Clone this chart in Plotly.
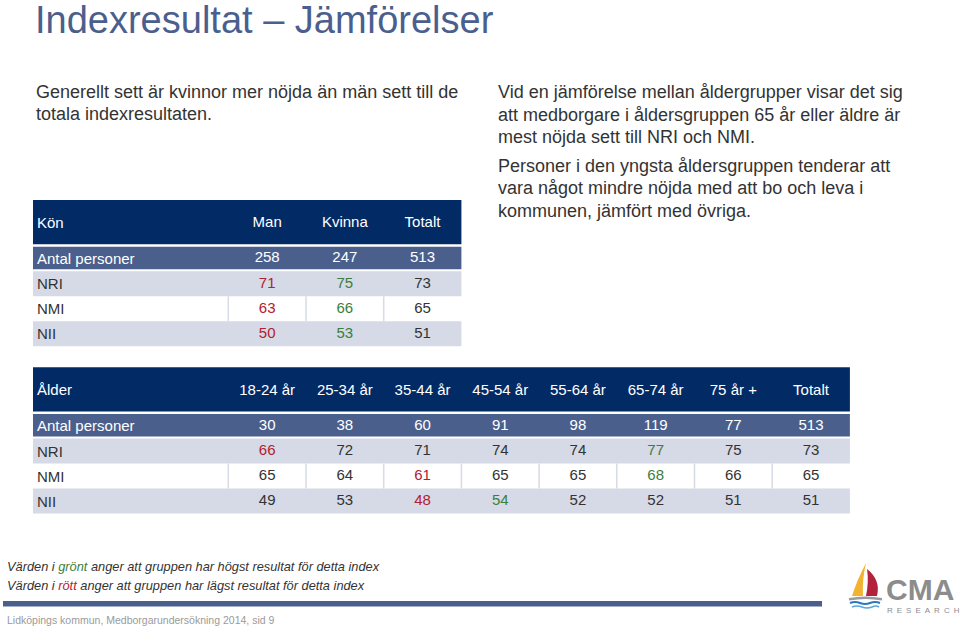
import plotly.graph_objects as go

# ---------------- data ----------------
title_text = "Indexresultat – Jämförelser"
left_lines = ["Generellt sett är kvinnor mer nöjda än män sett till de",
              "totala indexresultaten."]
right_par1 = ["Vid en jämförelse mellan åldergrupper visar det sig",
              "att medborgare i åldersgruppen 65 år eller äldre är",
              "mest nöjda sett till NRI och NMI."]
right_par2 = ["Personer i den yngsta åldersgruppen tenderar att",
              "vara något mindre nöjda med att bo och leva i",
              "kommunen, jämfört med övriga."]

row_labels = ["Antal personer", "NRI", "NMI", "NII"]

kon_label = "Kön"
kon_cols = ["Man", "Kvinna", "Totalt"]
kon_antal = [258, 247, 513]
kon_nri = [71, 75, 73]
kon_nmi = [63, 66, 65]
kon_nii = [50, 53, 51]

alder_label = "Ålder"
alder_cols = ["18-24 år", "25-34 år", "35-44 år", "45-54 år", "55-64 år",
              "65-74 år", "75 år +", "Totalt"]
alder_antal = [30, 38, 60, 91, 98, 119, 77, 513]
alder_nri = [66, 72, 71, 74, 74, 77, 75, 73]
alder_nmi = [65, 64, 61, 65, 65, 68, 66, 65]
alder_nii = [49, 53, 48, 54, 52, 52, 51, 51]

source_text = "Lidköpings kommun, Medborgarundersökning 2014, sid 9"

# ---------------- style ----------------
FONT = "Liberation Sans, Arial, Helvetica, sans-serif"
TITLE_C = "#4b5f8e"
NAVY = "#022b66"
MID = "#4b5f8d"
LIGHT = "#d5dae6"
SEP = "#d6dbe6"
TXT = "#333333"
RED = "#b3202f"
GREEN = "#3d7d3d"
W, H = 960, 627

fig = go.Figure()
shapes = []
anns = []


def rect(x0, y0, x1, y1, color):
    return dict(type="rect", xref="x", yref="y", x0=x0, y0=y0, x1=x1, y1=y1,
                fillcolor=color, line=dict(width=0), layer="below")


def left_text(x, y, text, size, color, **kw):
    anns.append(dict(x=x, y=y, xref="x", yref="y", text=text, showarrow=False,
                     xanchor="left", yanchor="middle", align="left",
                     font=dict(family=FONT, size=size, color=color), **kw))


def value_colors(vals):
    body = vals[:-1]
    lo, hi = min(body), max(body)
    cols = []
    for i, v in enumerate(vals):
        if i == len(vals) - 1:
            cols.append(TXT)
        elif v == lo:
            cols.append(RED)
        elif v == hi:
            cols.append(GREEN)
        else:
            cols.append(TXT)
    return cols


def add_table(label, cols, antal, rows, top):
    n = len(cols)
    left, lab_w, col_w = 33, 195.3, 77.7
    right = left + lab_w + n * col_w
    hdr_h, g1, ant_h, g2, row_h = 44.3, 2.5, 22.5, 2.0, 25.0
    xs = [left + lab_w + (i + 0.5) * col_w for i in range(n)]

    # header
    y0, y1 = top, top + hdr_h
    shapes.append(rect(left, y0, right, y1, NAVY))
    yc = (y0 + y1) / 2 + 0.5
    left_text(left + 2, yc, label, 15, "white")
    fig.add_trace(go.Scatter(x=xs, y=[yc + 1] * n, mode="text", text=cols,
                             textposition="middle center",
                             textfont=dict(family=FONT, size=15, color="white"),
                             hoverinfo="skip", showlegend=False))
    # antal
    y0 = y1 + g1
    y1 = y0 + ant_h
    shapes.append(rect(left, y0, right, y1, MID))
    yc = (y0 + y1) / 2
    left_text(left + 2, yc, row_labels[0], 15, "white")
    fig.add_trace(go.Scatter(x=xs, y=[yc + 0.5] * n, mode="text",
                             text=[str(v) for v in antal],
                             textposition="middle center",
                             textfont=dict(family=FONT, size=15, color="white"),
                             hoverinfo="skip", showlegend=False))
    # index rows
    y0 = y1 + g2
    for r, vals in enumerate(rows):
        y1 = y0 + row_h
        if r % 2 == 0:
            shapes.append(rect(left, y0, right, y1, LIGHT))
        else:
            for i in range(n):
                xb = left + lab_w + i * col_w
                shapes.append(dict(type="line", xref="x", yref="y", x0=xb, x1=xb,
                                   y0=y0, y1=y1, line=dict(color=SEP, width=1.5),
                                   layer="below"))
        yc = (y0 + y1) / 2
        left_text(left + 2, yc, row_labels[r + 1], 15, TXT)
        fig.add_trace(go.Scatter(x=xs, y=[yc + 0.5] * n, mode="text",
                                 text=[str(v) for v in vals],
                                 textposition="middle center",
                                 textfont=dict(family=FONT, size=15,
                                               color=value_colors(vals)),
                                 hoverinfo="skip", showlegend=False))
        y0 = y1


add_table(kon_label, kon_cols, kon_antal, [kon_nri, kon_nmi, kon_nii], 200)
add_table(alder_label, alder_cols, alder_antal,
          [alder_nri, alder_nmi, alder_nii], 367.3)

# title & paragraphs
left_text(33, 19.5, title_text, 38, TITLE_C, height=39, valign="middle")
for i, line in enumerate(left_lines):
    left_text(34, 92 + i * 22.3, line, 18, TXT)
for i, line in enumerate(right_par1):
    left_text(496, 92 + i * 22.5, line, 18, TXT)
for i, line in enumerate(right_par2):
    left_text(496, 166 + i * 22.3, line, 18, TXT)

# footer notes
left_text(5, 566, "<i>Värden i <span style='color:%s'>grönt</span> anger att gruppen har högst resultat för detta index</i>" % GREEN, 12.8, TXT)
left_text(5, 585, "<i>Värden i <span style='color:%s'>rött</span> anger att gruppen har lägst resultat för detta index</i>" % RED, 12.8, TXT)
shapes.append(rect(3, 601, 822, 606.5, MID))
left_text(5, 619.5, source_text, 10.5, "#9a9a9a")

# logo
shapes.append(dict(type="path", xref="x", yref="y",
                   path="M 866 563 Q 857 580 852 596 L 863 596 Q 862 580 866 563 Z",
                   fillcolor="#f2b430", line=dict(width=0)))
shapes.append(dict(type="path", xref="x", yref="y",
                   path="M 867 569 Q 881 580 877 596 L 866 596 Q 869 582 867 569 Z",
                   fillcolor="#b3223c", line=dict(width=0)))
shapes.append(dict(type="path", xref="x", yref="y",
                   path="M 849 598 Q 866 595 882 598 L 882 600.5 Q 866 597.5 849 600.5 Z",
                   fillcolor="#9b9b9b", line=dict(width=0)))
shapes.append(dict(type="path", xref="x", yref="y",
                   path="M 850 603 Q 855 601 860 603 Q 865 605 870 603 Q 875 601 880 603",
                   line=dict(color="#2b78bd", width=2)))
shapes.append(dict(type="path", xref="x", yref="y",
                   path="M 852 607 Q 857 605 862 607 Q 867 609 872 607 Q 876 605 879 607",
                   line=dict(color="#5aa7dd", width=1.6)))
anns.append(dict(x=884, y=588.5, xref="x", yref="y", text="<b>CMA</b>",
                 showarrow=False, xanchor="left", yanchor="middle",
                 height=24, valign="middle",
                 font=dict(family=FONT, size=30, color="#8c8c8c")))
anns.append(dict(x=885, y=610, xref="x", yref="y",
                 text="\u2002".join("RESEARCH"), showarrow=False,
                 xanchor="left", yanchor="middle", height=8, valign="middle",
                 font=dict(family=FONT, size=8, color="#8c8c8c")))

fig.update_layout(
    width=W, height=H, margin=dict(l=0, r=0, t=0, b=0),
    paper_bgcolor="white", plot_bgcolor="white",
    xaxis=dict(range=[0, W], visible=False, fixedrange=True),
    yaxis=dict(range=[H, 0], visible=False, fixedrange=True),
    shapes=shapes, annotations=anns, showlegend=False,
)
fig.write_html("out.html", config={"displayModeBar": False},
               post_script="document.body.style.margin='0';document.body.style.overflow='hidden';")
